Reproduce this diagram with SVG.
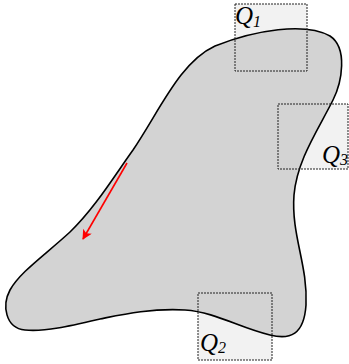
<svg xmlns="http://www.w3.org/2000/svg" width="349" height="364" viewBox="0 0 349 364">
<style>
.boxfill{fill:#f2f2f2;stroke:none}
.boxline{fill:none;stroke:#222;stroke-width:1;stroke-dasharray:2,1}
.shape{fill:#d3d3d3;stroke:#000;stroke-width:1.6}
.lbl{font-family:"Liberation Serif",serif;font-style:italic;font-size:25px;fill:#000}
.sub{font-family:"Liberation Serif",serif;font-size:16px;fill:#000}
.arrow{stroke:#ff0000;stroke-width:1.6;fill:none}
</style>
<defs>
<marker id="ah" viewBox="0 0 10 10" refX="9" refY="5" markerWidth="12" markerHeight="10" orient="auto" markerUnits="userSpaceOnUse">
<path d="M0,0 L10,5 L0,10 L2.5,5 Z" fill="#ff0000"/>
</marker>
</defs>
<g id="boxes-fill">
<rect class="boxfill" x="235" y="4" width="72" height="67"/>
<rect class="boxfill" x="278" y="104" width="70" height="65"/>
<rect class="boxfill" x="198" y="293" width="74" height="67"/>
</g>
<g id="region">
<path class="shape" d="M 215,46 C 255,30 305,22 330,36 C 348,48 342,82 333,100 C 318,130 297,160 294,195 C 291,235 308,265 306,305 C 304,335 290,340 270,335 C 240,328 215,312 185,310 C 150,308 120,315 100,319 C 70,326 45,332 25,330 C 5,328 2,305 10,290 C 20,272 45,255 70,232 C 95,208 115,175 133,150 C 160,110 180,62 215,46 Z"/>
</g>
<g id="Q1">
<rect class="boxline" x="235" y="4" width="72" height="67"/>
<text class="lbl" x="235" y="24">Q<tspan class="sub" font-style="italic" dy="3">1</tspan></text>
</g>
<g id="Q3">
<rect class="boxline" x="278" y="104" width="70" height="65"/>
<text class="lbl" x="322" y="163">Q<tspan class="sub" dy="2">3</tspan></text>
</g>
<g id="Q2">
<rect class="boxline" x="198" y="293" width="74" height="67"/>
<text class="lbl" x="200" y="351">Q<tspan class="sub" dy="2">2</tspan></text>
</g>
<g id="connectors">
<line class="arrow" x1="127" y1="163" x2="83" y2="239" marker-end="url(#ah)"/>
</g>
</svg>
